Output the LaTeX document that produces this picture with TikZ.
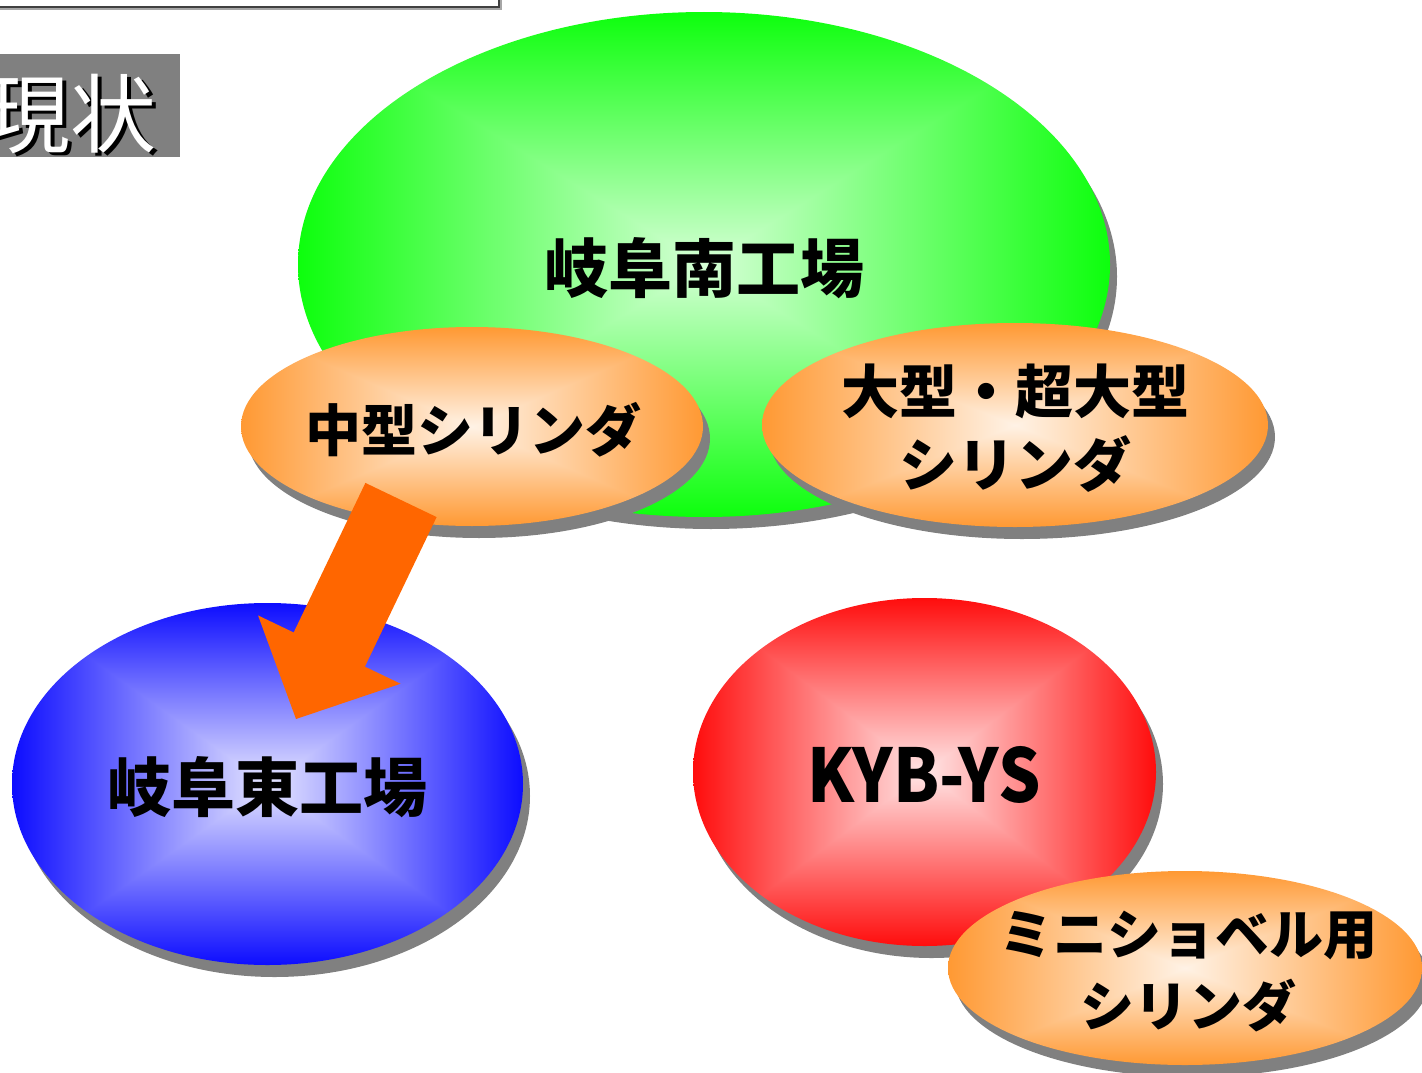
\documentclass[tikz,border=0pt]{standalone}
\usepackage{fontspec}
\newfontfamily\jpfont{Noto Sans CJK JP}
\usetikzlibrary{shapes.geometric,shadows,calc}

\definecolor{shadowgray}{RGB}{128,128,128}
\definecolor{framegray}{RGB}{64,64,64}
\definecolor{arrowcol}{RGB}{255,102,0}

% light centre, full colour at the edge of the box
\newcommand\rectshade[7]{%
  \pgfdeclarefunctionalshading{#1}{\pgfpoint{-50bp}{-50bp}}{\pgfpoint{50bp}{50bp}}{}{%
    abs exch abs 2 copy sub abs add add 50 div
    dup 1 sub abs neg add 1 add 2 div
    dup #5 #2 sub mul #2 add
    exch dup #6 #3 sub mul #3 add
    exch #7 #4 sub mul #4 add}}
\rectshade{rectgreen}{0.84}{1}{0.84}{0.05}{1}{0.05}
\rectshade{rectorange}{1}{0.95}{0.9}{1}{0.6}{0.2}
\rectshade{rectblue}{0.9}{0.9}{1}{0.05}{0.05}{1}
\rectshade{rectred}{1}{0.9}{0.9}{1}{0.05}{0.05}

\begin{document}
\begin{tikzpicture}[x=1pt,y=-1pt,
    blob/.style={ellipse,inner sep=0pt,
      drop shadow={shadow xshift=7pt,shadow yshift=-12pt,fill=shadowgray,opacity=1}},
    lbl/.style={inner sep=0pt,align=center},
    bigtxt/.style={lbl,font=\jpfont\bfseries\fontsize{64}{70}\selectfont},
    midtxt/.style={lbl,font=\jpfont\bfseries\fontsize{56}{73}\selectfont}]
  \useasboundingbox (0,0) rectangle (1422,1073);

  % frame at the top
  \draw [shadowgray!70,line width=1.5pt] (-10,-9) rectangle (501,9);
  \draw [framegray,line width=1.5pt] (-10,-10) rectangle (499,7);

  % title
  \fill [shadowgray] (0,54) rectangle (180,157);
  \node [lbl,font=\jpfont\fontsize{86}{90}\selectfont,text=black] (titleshadow) at (74,117) {現状};
  \node [lbl,font=\jpfont\fontsize{86}{90}\selectfont,text=white] (title) at (71,114) {現状};

  % Gifu south
  \node [blob,shading=rectgreen,minimum width=812pt,minimum height=505pt] (southE) at (704,264.5) {};
  \node [bigtxt] (south) at (704,268) {岐阜南工場};

  \node [blob,shading=rectorange,minimum width=462pt,minimum height=199pt] (middleE) at (472,426.5) {};
  \node [midtxt] (middle) at (473,430) {中型シリンダ};

  \node [blob,shading=rectorange,minimum width=506pt,minimum height=204pt] (largeE) at (1015,425) {};
  \node [midtxt,font=\jpfont\bfseries\fontsize{58}{73}\selectfont] (large) at (1015,428) {大型・超大型\\シリンダ};

  % Gifu east
  \node [blob,shading=rectblue,minimum width=511pt,minimum height=362pt] (eastE) at (267.5,784) {};
  \node [bigtxt] (east) at (267,787.5) {岐阜東工場};

  % KYB-YS
  \node [blob,shading=rectred,minimum width=463pt,minimum height=348pt] (ysE) at (924.5,772) {};
  \node [lbl,font=\jpfont\bfseries\fontsize{74}{80}\selectfont] (ys) at (924,775) {\scalebox{0.9}[1]{KYB-YS}};

  \node [blob,shading=rectorange,minimum width=474pt,minimum height=194pt] (miniE) at (1185,968) {};
  \node [midtxt,font=\jpfont\bfseries\fontsize{54}{72}\selectfont] (mini) at (1188,971.5) {ミニショベル用\\シリンダ};

  % move of the middle cylinders
  \coordinate (arrtail) at (401,500);
  \coordinate (arrtip) at (296,719);
  \coordinate (arrhead) at ($(arrtip)!77pt!(arrtail)$);
  \fill [arrowcol] ($(arrtail)!39.5pt!90:(arrtip)$) -- ($(arrhead)!39.5pt!90:(arrtip)$)
     -- ($(arrhead)!79pt!90:(arrtip)$) -- (arrtip) -- ($(arrhead)!79pt!-90:(arrtip)$)
     -- ($(arrhead)!39.5pt!-90:(arrtip)$) -- ($(arrtail)!39.5pt!-90:(arrtip)$) -- cycle;
\end{tikzpicture}
\end{document}
